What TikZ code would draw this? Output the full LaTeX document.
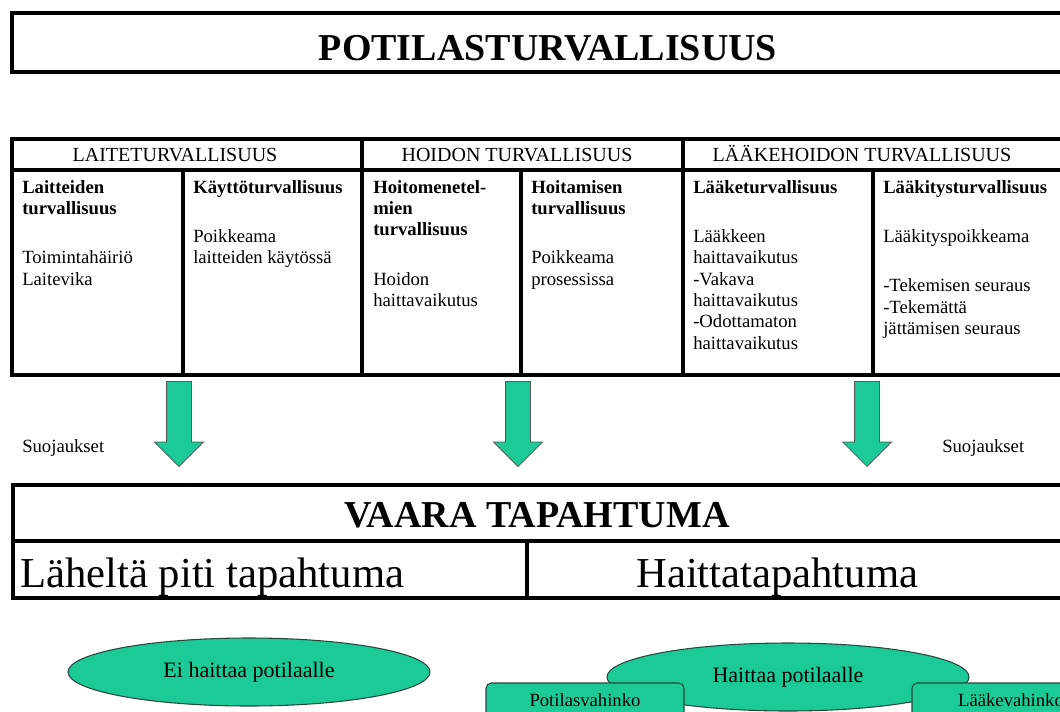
\documentclass[tikz,border=0pt]{standalone}
\usepackage{fontspec}
\setmainfont{Liberation Serif}
\usetikzlibrary{shapes.geometric, shapes.arrows, positioning}
\definecolor{tealgreen}{RGB}{28,202,152}
\definecolor{edgegreen}{RGB}{40,70,60}

\begin{document}
\begin{tikzpicture}[
  x=0.75pt, y=-0.75pt,
  frame/.style={draw, line width=2.5pt},
  head/.style={anchor=base, font=\fontsize{15}{17}\selectfont},
  cell/.style={anchor=north west, align=left, inner sep=0pt, font=\fontsize{14}{16}\selectfont},
  big/.style={anchor=base west, inner sep=0pt, font=\fontsize{32}{36}\selectfont},
  bigbold/.style={anchor=base, inner sep=0pt, font=\fontsize{28.5}{32}\selectfont\bfseries},
  note/.style={anchor=base west, inner sep=0pt, font=\fontsize{14}{16}\selectfont},
  blob/.style={ellipse, draw=edgegreen, line width=0.8pt, fill=tealgreen, inner sep=0pt,
    minimum width=271.5pt, minimum height=51pt, font=\fontsize{16.5}{18}\selectfont},
  tag/.style={rectangle, rounded corners=4pt, draw=edgegreen, line width=0.8pt, fill=tealgreen,
    minimum width=148.5pt, minimum height=25.5pt, font=\fontsize{14}{16}\selectfont},
  garrow/.style={single arrow, draw=black!65, line width=0.6pt, fill=tealgreen, rotate=-90,
    minimum height=63.75pt, inner ysep=9pt, inner xsep=0pt, single arrow head extend=9pt, anchor=tip}
]
\useasboundingbox (0,0) rectangle (1060,711);
\clip (0,0) rectangle (1060,711);

% title
\draw[frame, line width=2.8pt] (12,13) rectangle (1080,72);
\node[bigbold] (title) at (548,60) {POTILASTURVALLISUUS};

% table
\draw[frame] (12,139) rectangle (1080,375);
\draw[frame] (12,170) -- (1080,170);
\foreach \x in {362,683} \draw[frame] (\x,139) -- (\x,375);
\foreach \x in {183,521,873} \draw[frame] (\x,170) -- (\x,375);

\node[head] (h1) at (175,161) {LAITETURVALLISUUS};
\node[head] (h2) at (517,161) {HOIDON TURVALLISUUS};
\node[head] (h3) at (862,161) {LÄÄKEHOIDON TURVALLISUUS};

\node[cell] (c1) at (22,180) {\textbf{Laitteiden}\\\textbf{turvallisuus}\\[21pt]
  Toimintahäiriö\\Laitevika};
\node[cell] (c2) at (193,180) {\textbf{Käyttöturvallisuus}\\[21pt]
  Poikkeama\\laitteiden käytössä};
\node[cell] (c3) at (373,180) {\textbf{Hoitomenetel-}\\\textbf{mien}\\\textbf{turvallisuus}\\[21pt]
  Hoidon\\haittavaikutus};
\node[cell] (c4) at (531,180) {\textbf{Hoitamisen}\\\textbf{turvallisuus}\\[21pt]
  Poikkeama\\prosessissa};
\node[cell] (c5) at (693,180) {\textbf{Lääketurvallisuus}\\[21pt]
  Lääkkeen\\haittavaikutus\\-Vakava\\haittavaikutus\\-Odottamaton\\haittavaikutus};
\node[cell] (c6) at (883,180) {\textbf{Lääkitysturvallisuus}\\[21pt]
  Lääkityspoikkeama\\[21pt]
  -Tekemisen seuraus\\-Tekemättä\\jättämisen seuraus};

% arrows
\node[garrow] (a1) at (179,467) {};
\node[garrow] (a2) at (518,467) {};
\node[garrow] (a3) at (867,467) {};
\node[note] (s1) at (22,452) {Suojaukset};
\node[note] (s2) at (942,452) {Suojaukset};

% event box
\draw[frame] (13,485) rectangle (1080,598);
\draw[frame] (13,541) -- (1080,541);
\draw[frame] (527,541) -- (527,598);
\node[bigbold] (vaara) at (537,527) {VAARA TAPAHTUMA};
\node[big] (near) at (20,587) {Läheltä piti tapahtuma};
\node[big] (harm) at (636,587) {Haittatapahtuma};

% outcomes
\node[blob] (e1) at (249,672) {Ei haittaa potilaalle};
\node[blob] (e2) at (788,677) {Haittaa potilaalle};
\node[tag] (t1) at (585,700) {Potilasvahinko};
\node[tag] (t2) at (1011,700) {Lääkevahinko};
\end{tikzpicture}
\end{document}
